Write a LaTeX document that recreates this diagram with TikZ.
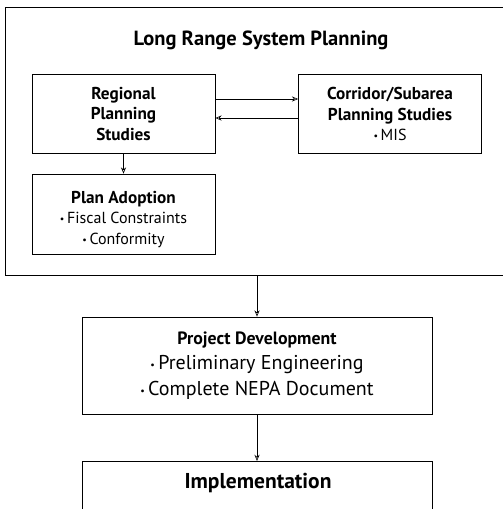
\documentclass[tikz,border=0pt]{standalone}
\usepackage{fontspec}
\setmainfont{PT Sans}
\usetikzlibrary{arrows.meta,positioning,calc}
\newcommand{\bul}{\raisebox{1pt}{\fontsize{10}{10}\selectfont\textbullet}\,}
\newcommand{\bhd}[1]{{\bfseries\fontsize{17.2}{20.5}\selectfont #1}}
\tikzset{
  sblock/.style={rectangle, draw=black, line width=0.7pt, fill=white, align=center, inner sep=2pt},
  parrow/.style={-{Stealth[length=2.2mm, width=1.8mm, open]}, line width=0.6pt, black},
  lbl/.style={inner sep=1pt, align=center}
}

\begin{document}
\begin{tikzpicture}[x=1pt, y=-1pt,
    block/.style={sblock, minimum width=183pt, minimum height=79pt, font=\fontsize{16}{20.5}\selectfont},
    wblock/.style={sblock, minimum width=350pt, font=\fontsize{20}{25.5}\selectfont},
    parr/.style={parrow}
  ]
    \useasboundingbox (0,0) rectangle (503,509);
    % outer frame
    \node[sblock, minimum width=506pt, minimum height=268pt, fill=none] (lrsp) at (258,141) {};
    \node[lbl, font=\bfseries\fontsize{20.5}{24}\selectfont] (title) at (261,40) {Long Range System Planning};

    \node[block] (reg) at (123.5,114) {\bhd{Regional}\\ \bhd{Planning}\\ \bhd{Studies}};
    \node[block] (cor) at (390,114) {\bhd{Corridor/Subarea}\\ \bhd{Planning Studies}\\ \bul MIS};
    \node[block, minimum height=80pt] (plan) at (123.5,214) {\rule{0pt}{23pt}\bhd{Plan Adoption}\\ \bul Fiscal Constraints\\ \bul Conformity};

    \node[wblock, minimum height=97pt] (proj) at (257,365.5) {{\bfseries\fontsize{17.8}{25.5}\selectfont Project Development}\\ \bul Preliminary Engineering\\ \bul Complete NEPA Document};
    \node[wblock, minimum height=70pt, anchor=north] (impl) at (257,461) {};
    \node[lbl, font=\bfseries\fontsize{21.5}{24}\selectfont] (impltxt) at (258,483) {Implementation};

    \draw[parr] ([yshift=15pt]reg.east) -- ([yshift=15pt]cor.west);
    \draw[parr] ([yshift=-4pt]cor.west) -- ([yshift=-4pt]reg.east);
    \draw[parr] (reg.south) -- (plan.north);
    \draw[parr] (lrsp.south -| proj.north) -- (proj.north);
    \draw[parr] (proj) -- (impl);
  \end{tikzpicture}
\end{document}
